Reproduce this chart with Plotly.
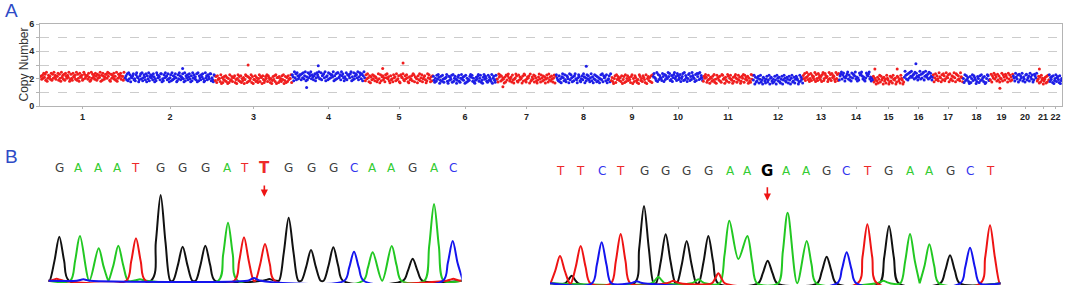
import plotly.graph_objects as go

# ---------------- Panel A data ----------------
chrom_labels = [str(i) for i in range(1, 23)]
chrom_widths = [85, 90, 77, 73, 68, 64, 59, 55, 42, 50, 50, 50, 36, 34, 31, 29, 30, 27, 23, 24, 12, 13]
chrom_levels = [2.14, 2.10, 1.97, 2.18, 2.03, 1.99, 2.01, 2.03, 1.97, 2.12, 1.99, 1.93,
                2.12, 2.16, 1.93, 2.22, 2.10, 1.97, 2.08, 2.08, 1.93, 1.97]
noise_step = 0.072
chrom_noise = [
    "55263 84719 03645 28173 94625 58173 09462 71853 64902 73185 46291 73085 46129 73556 28401 93746 28517 36490 61852 47739 58107 36482 51903 74682 55193",
    "46281 93705 46823 17954 02683 91475 28063 91574 62850 31974 65288 03174 95628 30471 92635 84017 39625 48309 16472 58306 19473 52809 16427 58301 94627 53881 42076",
    "37184 55290 61473 82605 19347 26681 40593 72815 36049 81726 35917 04482 63159 27608 41375 92864 15037 48290 66173 52849 03716 28455 91",
    "64093 71852 46617 38259 04183 75926 41570 38649 22815 67390 45182 73664 90517 28834 61957 30428 16653 79041 82576 39148 62705 93",
    "28495 17063 84726 51394 08267 35185 94620 73418 56293 47108 65932 74851 06347 29816 54073 92581 46730 29584 1627",
    "73152 84960 37284 15569 20736 48192 57403 68215 94637 08152 43796 82510 36479 25813 06947 52183 64290 57318 4",
    "41968 27354 06183 79524 61830 45972 18364 50729 83146 57092 36481 75203 69418 52736 04851 93627 41580 7",
    "85327 14069 52831 76409 38516 27943 05862 14739 60528 47315 92604 83716 25048 39175 62803 4719",
    "36205 81947 53628 04719 25836 41790 52863 14097 35286 41905 73628 19",
    "58431 90726 43185 07264 39581 26047 93518 62470 35819 26403 78152 96430 71858 29364 1",
    "27596 13840 65273 91408 56372 19845 06329 71584 30627 95148 36027 59184 63705 21948",
    "49072 36815 92407 63158 24906 73152 84096 37215 80496 32751 84069 23715 86402 93751",
    "63814 95270 38164 52907 31846 25079 13864 50293 71846 52093 718",
    "15792 68403 57926 14083 76592 40318 67952 41038 65792 4031",
    "82640 37159 28460 73519 64028 37195 46028 73519 6402",
    "39516 07284 93561 82740 35916 27804 95361 82740 3",
    "70482 63195 40728 61395 47082 36159 40872 63195 40",
    "51938 46207 15938 64027 51839 46270 15983 4",
    "28064 93751 82604 39175 28640 93715 28",
    "64195 37082 64915 30782 46195 37028 649",
    "35817 29460 35718 294",
    "92647 18035 92674 18035",
]
out_chrom = [2, 3, 4, 4, 5, 5, 7, 8, 15, 15, 16, 19, 21]
out_frac = [0.64, 0.43, 0.36, 0.20, 0.56, 0.26, 0.10, 0.55, 0.06, 0.78, 0.41, 0.43, 0.20]
out_value = [2.75, 3.0, 2.95, 1.35, 3.15, 2.75, 1.40, 2.90, 2.70, 2.70, 3.10, 1.30, 2.70]

# ---------------- Panel B data ----------------
left_letters = list("GAAATGGGATTGGGCAAGAC")
left_letter_pos = [178, 237, 295, 353, 406, 481, 548, 618, 683, 733, 793, 866, 933, 1000,
                   1062, 1118, 1175, 1238, 1302, 1358]
left_mut = 10
left_peaks = {
    "black": ([178, 482, 548, 616, 866, 933, 1000, 1238, 808], [132, 257, 102, 105, 189, 92, 100, 66, 5]),
    "green": ([240, 296, 355, 684, 1118, 1175, 1302, 420], [134, 97, 105, 174, 85, 104, 230, 4]),
    "red": ([170, 408, 732, 795, 1360], [6, 127, 130, 110, 6]),
    "blue": ([762, 1062, 1358, 250], [8, 87, 119, 4]),
}
left_valleys = {}

right_letters = list("TTCTGGGGAAGAAGCTGAAGCT")
right_letter_pos = [90, 152, 215, 270, 342, 407, 470, 535, 600, 652, 712, 770, 828, 888, 948,
                    1012, 1075, 1140, 1198, 1262, 1320, 1380]
right_mut = 10
right_peaks = {
    "black": ([125, 342, 407, 470, 535, 713, 890, 1077, 1260], [23, 232, 147, 127, 142, 68, 80, 172, 84]),
    "green": ([385, 505, 598, 652, 773, 830, 1060, 1140, 1198], [20, 12, 188, 142, 212, 127, 8, 148, 117]),
    "red": ([90, 152, 272, 430, 565, 1012, 1380], [82, 112, 148, 8, 30, 177, 174]),
    "blue": ([215, 320, 950, 1320], [123, 6, 93, 107]),
}
right_valleys = {"green": {(598, 652): 73}}

# ---------------- styles ----------------
RED = "#f01e1e"
BLUE = "#1e1ee6"
trace_colors = {"black": "#111111", "green": "#22c822", "red": "#ee1414", "blue": "#1414ee"}
letter_colors = {"G": "#404040", "A": "#33cc33", "T": "#ee2a2a", "C": "#3333ee"}

W, H = 1065, 286

fig = go.Figure()

# ---- Panel A scatter ----
start = 0
centers = []
for k, (wd, lvl, s) in enumerate(zip(chrom_widths, chrom_levels, chrom_noise)):
    s = s.replace(" ", "")
    n = len(s)
    xs = [start + (i + 0.5) * wd / n for i in range(n)]
    ys = [lvl + (int(c) - 4.5) * noise_step for c in s]
    for c, f, v in zip(out_chrom, out_frac, out_value):
        if c == k + 1:
            xs.append(start + f * wd)
            ys.append(v)
    fig.add_trace(go.Scatter(x=xs, y=ys, mode="markers", xaxis="x", yaxis="y",
                             marker=dict(size=3, color=RED if k % 2 == 0 else BLUE, line=dict(width=0)),
                             showlegend=False, hoverinfo="skip"))
    centers.append(start + wd / 2)
    start += wd
total = start


def build(pos, hts, xmin, xmax, valleys):
    pk = sorted(zip(pos, hts))
    xs, ys = [xmin], [0]
    prev = None
    for p, h in pk:
        ww = 29 if h > 30 else 20
        if prev is not None:
            pp, ph, pw = prev
            if p - ww < pp + pw:
                v = valleys.get((pp, p), 0)
                del xs[-2:]
                del ys[-2:]
                xs += [(pp + p) / 2]
                ys += [v]
                xs += [p, p + ww / 2, p + ww]
                ys += [h, 0.45 * h, 0]
                prev = (p, h, ww)
                continue
        xs += [p - ww, p - ww / 2, p, p + ww / 2, p + ww]
        ys += [0, 0.45 * h, h, 0.45 * h, 0]
        prev = (p, h, ww)
    xs.append(xmax)
    ys.append(0)
    return xs, ys


def add_chrom(peaks, valleys, xa, ya, xmin, xmax):
    for col in ["black", "green", "red", "blue"]:
        pos, hts = peaks[col]
        xs, ys = build(pos, hts, xmin, xmax, valleys.get(col, {}))
        fig.add_trace(go.Scatter(x=xs, y=ys, mode="lines", xaxis=xa, yaxis=ya,
                                 line=dict(color=trace_colors[col], width=2, shape="spline", smoothing=0.9),
                                 showlegend=False, hoverinfo="skip"))


add_chrom(left_peaks, left_valleys, "x2", "y2", 145, 1385)
add_chrom(right_peaks, right_valleys, "x3", "y3", 60, 1412)

annotations = []


def add_letters(letters, positions, mut, xr, yr, ylev, arrow_top, arrow_tip):
    for i, (L, p) in enumerate(zip(letters, positions)):
        if i == mut:
            col = "#000000" if L == "G" else letter_colors[L]
            annotations.append(dict(x=p, y=ylev, xref=xr, yref=yr, text="<b>%s</b>" % L, showarrow=False,
                                    font=dict(family="DejaVu Sans", size=15, color=col)))
        else:
            annotations.append(dict(x=p, y=ylev, xref=xr, yref=yr, text=L, showarrow=False,
                                    font=dict(family="DejaVu Sans", size=12, color=letter_colors[L])))
    p = positions[mut]
    annotations.append(dict(x=p, y=arrow_tip, xref=xr, yref=yr, ax=p, ay=arrow_top,
                            axref=xr, ayref=yr, text="", showarrow=True, arrowhead=2,
                            arrowsize=0.9, arrowwidth=1.6, arrowcolor="#ee1414"))


add_letters(left_letters, left_letter_pos, left_mut, "x2", "y2", 337, 290, 252)
add_letters(right_letters, right_letter_pos, right_mut, "x3", "y3", 338, 293, 248)

annotations.append(dict(x=11 / W, y=1 - 10.5 / H, xref="paper", yref="paper", text="A", showarrow=False,
                        xanchor="center", yanchor="middle",
                        font=dict(family="Liberation Sans", size=19, color="#2e4bc6")))
annotations.append(dict(x=11.5 / W, y=1 - 156.5 / H, xref="paper", yref="paper", text="B", showarrow=False,
                        xanchor="center", yanchor="middle",
                        font=dict(family="Liberation Sans", size=19, color="#2e4bc6")))
annotations.append(dict(x=23.5 / W, y=1 - 65 / H, xref="paper", yref="paper", text="Copy Number",
                        showarrow=False, textangle=-90, xanchor="center", yanchor="middle",
                        font=dict(family="Liberation Sans", size=12, color="#333333")))

LINE = "#b4b4b4"
TICKFONT = dict(family="Liberation Sans", size=9, color="#222222", weight="bold")
fig.update_layout(
    width=W, height=H, autosize=False,
    margin=dict(l=0, r=0, t=0, b=0, autoexpand=False),
    paper_bgcolor="white", plot_bgcolor="white",
    font=dict(family="Liberation Sans", color="#222222"),
    annotations=annotations,
    xaxis=dict(domain=[40 / W, 1062 / W], range=[0, total], tickvals=centers, ticktext=chrom_labels,
               showline=True, mirror=True, linecolor=LINE, linewidth=1, showgrid=False, zeroline=False,
               ticks="outside", ticklen=2, tickcolor=LINE, tickfont=TICKFONT, fixedrange=True,
               automargin=False),
    yaxis=dict(domain=[1 - 106 / H, 1 - 24 / H], range=[0, 6], tickvals=[0, 1, 2, 3, 4, 5, 6],
               ticktext=["0", "", "2", "", "4", "", "6"], showgrid=True, gridcolor="#cccccc",
               griddash="dash", showline=True, mirror=True, linecolor=LINE, linewidth=1, zeroline=False,
               ticks="outside", ticklen=3, tickcolor=LINE, tickfont=TICKFONT,
               fixedrange=True, automargin=False),
    xaxis2=dict(domain=[48.3 / W, 461.7 / W], range=[145, 1385], visible=False, fixedrange=True),
    yaxis2=dict(domain=[1 - 283 / H, 1 - 140 / H], range=[-6.9, 422], visible=False, fixedrange=True),
    xaxis3=dict(domain=[550 / W, 1000.7 / W], range=[60, 1412], visible=False, fixedrange=True),
    yaxis3=dict(domain=[1 - 285 / H, 1 - 140 / H], range=[-5.1, 430], visible=False, fixedrange=True),
)

fig.write_html("out.html", config={"displayModeBar": False},
               post_script="document.body.style.margin='0px';document.body.style.overflow='hidden';")
